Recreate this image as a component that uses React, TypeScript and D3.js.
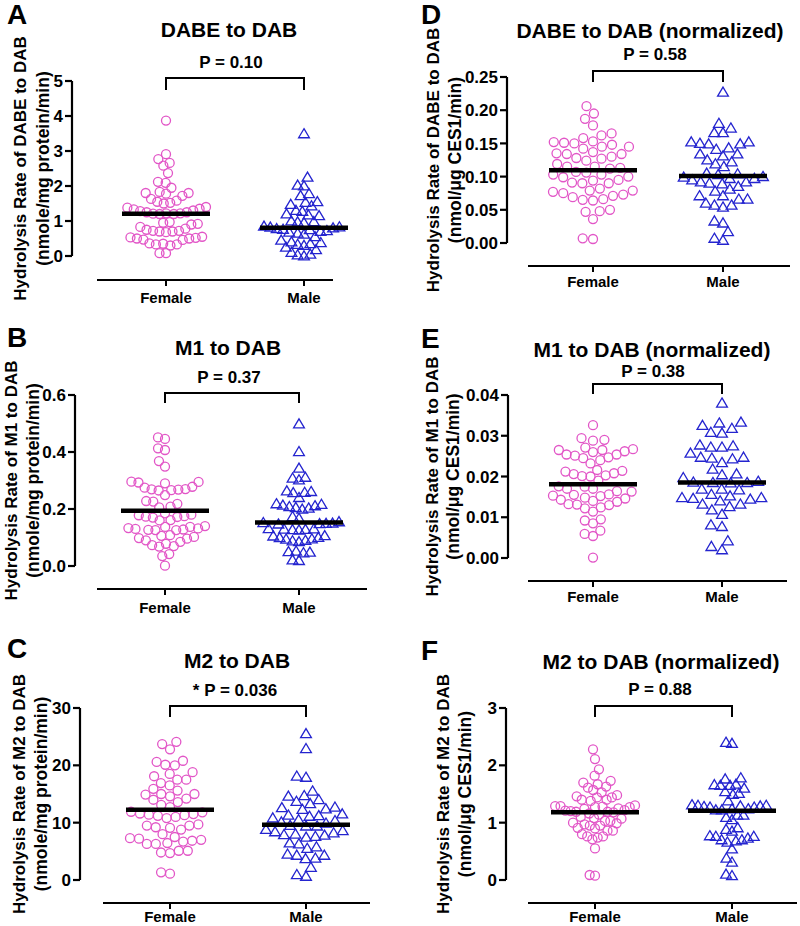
import React from "react";
import * as d3 from "d3";

const FONT = "'Liberation Sans', Arial, Helvetica, sans-serif";
const PINK = "#e256c7";
const BLUE = "#2424cf";

const CATEGORIES = ["Female", "Male"];

// ---- Data ----
const A_FEMALE = [3.87, 2.91, 2.77, 2.66, 2.58, 2.37, 2.12, 2.09, 1.95, 1.83, 1.8, 1.8, 1.78, 1.72, 1.63, 1.58, 1.55, 1.52, 1.5, 1.4, 1.38, 1.35, 1.33, 1.3, 1.28, 1.25, 1.22, 1.21, 1.2, 1.2, 1.22, 1.25, 0.97, 0.95, 0.92, 0.9, 0.83, 0.78, 0.75, 0.72, 0.72, 0.7, 0.7, 0.68, 0.55, 0.53, 0.52, 0.5, 0.5, 0.47, 0.46, 0.36, 0.35, 0.33, 0.33, 0.3, 0.08, 0.08];
const A_MALE = [3.49, 2.25, 2.02, 2.0, 1.78, 1.72, 1.55, 1.53, 1.47, 1.43, 1.3, 1.27, 1.2, 1.17, 1.15, 1.0, 0.98, 0.97, 0.95, 0.85, 0.83, 0.82, 0.8, 0.78, 0.76, 0.75, 0.72, 0.7, 0.68, 0.65, 0.62, 0.55, 0.45, 0.4, 0.38, 0.35, 0.33, 0.3, 0.25, 0.18, 0.1, 0.05, 0.0, 0.03];
const B_FEMALE = [0.451, 0.446, 0.413, 0.407, 0.368, 0.349, 0.296, 0.295, 0.293, 0.29, 0.278, 0.275, 0.27, 0.269, 0.268, 0.266, 0.265, 0.249, 0.226, 0.228, 0.218, 0.208, 0.206, 0.185, 0.18, 0.178, 0.175, 0.173, 0.172, 0.17, 0.161, 0.16, 0.14, 0.137, 0.133, 0.13, 0.127, 0.126, 0.126, 0.128, 0.132, 0.137, 0.106, 0.102, 0.096, 0.085, 0.073, 0.068, 0.07, 0.078, 0.09, 0.098, 0.108, 0.042, 0.035, 0.001];
const B_MALE = [0.498, 0.401, 0.343, 0.311, 0.308, 0.302, 0.263, 0.261, 0.257, 0.258, 0.24, 0.218, 0.213, 0.208, 0.203, 0.199, 0.205, 0.211, 0.216, 0.173, 0.167, 0.155, 0.15, 0.148, 0.147, 0.149, 0.152, 0.129, 0.128, 0.13, 0.127, 0.126, 0.131, 0.105, 0.1, 0.095, 0.09, 0.085, 0.088, 0.094, 0.099, 0.106, 0.05, 0.046, 0.048, 0.052, 0.019, 0.021];
const C_FEMALE = [24.1, 23.7, 22.8, 20.8, 20.6, 20.1, 20.0, 18.8, 18.5, 18.1, 17.5, 17.5, 16.9, 16.5, 15.9, 15.6, 15.0, 15.0, 14.9, 14.6, 14.2, 14.0, 13.6, 13.1, 12.7, 11.9, 11.8, 11.5, 11.4, 11.3, 11.2, 11.0, 10.8, 11.6, 9.7, 9.5, 9.5, 9.2, 9.1, 8.8, 8.0, 7.5, 7.3, 7.2, 7.0, 6.85, 6.7, 6.45, 6.3, 6.3, 5.1, 5.1, 4.8, 4.7, 1.34, 1.1];
const C_MALE = [25.5, 22.9, 18.1, 17.9, 15.5, 14.7, 14.6, 14.0, 13.7, 13.3, 12.7, 12.6, 12.4, 12.3, 11.5, 11.3, 11.2, 11.1, 10.8, 10.5, 10.35, 10.1, 9.9, 9.4, 9.4, 9.5, 8.8, 8.6, 8.4, 8.2, 8.0, 7.9, 7.8, 7.6, 7.45, 6.45, 6.3, 5.76, 5.5, 4.5, 4.3, 4.3, 3.8, 3.7, 2.2, 0.93, 0.64];
const D_FEMALE = [0.206, 0.195, 0.187, 0.177, 0.165, 0.162, 0.158, 0.153, 0.151, 0.15, 0.145, 0.137, 0.134, 0.134, 0.135, 0.142, 0.145, 0.148, 0.152, 0.13, 0.127, 0.119, 0.115, 0.112, 0.113, 0.115, 0.124, 0.128, 0.106, 0.103, 0.1, 0.094, 0.09, 0.09, 0.091, 0.095, 0.099, 0.103, 0.107, 0.082, 0.079, 0.077, 0.071, 0.066, 0.064, 0.065, 0.069, 0.073, 0.075, 0.079, 0.05, 0.047, 0.048, 0.036, 0.006, 0.007];
const D_MALE = [0.227, 0.18, 0.173, 0.166, 0.166, 0.152, 0.15, 0.149, 0.149, 0.152, 0.143, 0.141, 0.134, 0.131, 0.134, 0.122, 0.119, 0.125, 0.115, 0.105, 0.104, 0.1, 0.097, 0.097, 0.099, 0.103, 0.095, 0.092, 0.089, 0.081, 0.078, 0.085, 0.09, 0.092, 0.071, 0.066, 0.057, 0.054, 0.057, 0.06, 0.066, 0.071, 0.033, 0.03, 0.017, 0.004, 0.007];
const E_FEMALE = [0.0326, 0.0294, 0.029, 0.0288, 0.0271, 0.0267, 0.0265, 0.0265, 0.0254, 0.0254, 0.0251, 0.0247, 0.0262, 0.026, 0.0245, 0.024, 0.0232, 0.0216, 0.0214, 0.0206, 0.0203, 0.02, 0.0201, 0.0208, 0.0212, 0.019, 0.0175, 0.017, 0.0163, 0.0164, 0.017, 0.0176, 0.0156, 0.0153, 0.0148, 0.0143, 0.0138, 0.0132, 0.013, 0.0131, 0.014, 0.0146, 0.0152, 0.0155, 0.0124, 0.0114, 0.0122, 0.0092, 0.0095, 0.0085, 0.0059, 0.0054, 0.0067, 0.0001];
const E_MALE = [0.038, 0.0333, 0.0331, 0.0325, 0.0318, 0.0308, 0.0306, 0.0277, 0.0272, 0.0272, 0.0275, 0.0247, 0.0257, 0.0243, 0.0245, 0.0247, 0.0234, 0.0218, 0.0206, 0.0197, 0.0204, 0.0186, 0.0184, 0.0185, 0.0188, 0.0185, 0.0169, 0.0167, 0.0169, 0.0148, 0.0146, 0.014, 0.0156, 0.0152, 0.0132, 0.0144, 0.0148, 0.0132, 0.0118, 0.0126, 0.0107, 0.0081, 0.0077, 0.0042, 0.002, 0.0028];
const F_FEMALE = [2.28, 2.11, 1.93, 1.82, 1.73, 1.7, 1.67, 1.63, 1.61, 1.57, 1.53, 1.48, 1.46, 1.44, 1.44, 1.4, 1.4, 1.38, 1.3, 1.29, 1.28, 1.27, 1.25, 1.22, 1.2, 1.19, 1.19, 1.21, 1.24, 1.27, 1.29, 1.18, 1.16, 1.14, 1.1, 1.07, 1.03, 1.0, 0.97, 0.95, 0.9, 0.86, 0.86, 0.91, 0.95, 0.99, 1.03, 1.08, 0.8, 0.76, 0.76, 0.74, 0.71, 0.55, 0.087, 0.075];
const F_MALE = [2.4, 2.38, 1.78, 1.76, 1.67, 1.66, 1.65, 1.65, 1.6, 1.54, 1.51, 1.49, 1.38, 1.31, 1.3, 1.3, 1.29, 1.29, 1.28, 1.27, 1.27, 1.24, 1.24, 1.22, 1.22, 1.13, 1.13, 1.09, 1.05, 0.91, 0.88, 0.85, 0.77, 0.76, 0.76, 0.73, 0.7, 0.7, 0.68, 0.66, 0.54, 0.38, 0.31, 0.1, 0.075];

// median lines [female, male]
const A_MED = [1.21, 0.81];
const B_MED = [0.194, 0.153];
const C_MED = [12.27, 9.65];
const D_MED = [0.1095, 0.101];
const E_MED = [0.0181, 0.0185];
const F_MED = [1.18, 1.21];

const A_TICKS = [0, 1, 2, 3, 4, 5];
const B_TICKS = [0, 0.2, 0.4, 0.6];
const C_TICKS = [0, 10, 20, 30];
const D_TICKS = [0, 0.05, 0.1, 0.15, 0.2, 0.25];
const E_TICKS = [0, 0.01, 0.02, 0.03, 0.04];
const F_TICKS = [0, 1, 2, 3];

const TITLES = ["DABE to DAB", "M1 to DAB", "M2 to DAB", "DABE to DAB (normalized)", "M1 to DAB (normalized)", "M2 to DAB (normalized)"];
const PVALUES = ["P = 0.10", "P = 0.37", "* P = 0.036", "P = 0.58", "P = 0.38", "P = 0.88"];
const YLABEL1 = ["Hydrolysis Rate of DABE to DAB", "Hydrolysis Rate of M1 to DAB", "Hydrolysis Rate of M2 to DAB", "Hydrolysis Rate of DABE to DAB", "Hydrolysis Rate of M1 to DAB", "Hydrolysis Rate of M2 to DAB"];
const YLABEL2 = ["(nmole/mg protein/min)", "(nmole/mg protein/min)", "(nmole/mg protein/min)", "(nmol/\u03BCg CES1/min)", "(nmol/\u03BCg CES1/min)", "(nmol/\u03BCg CES1/min)"];

// ---- Layout (pixels) ----
const LAYOUT = [
  { letter: "A", lx: 7, ly: 24, axisX: 72, yTop: 81, yBot: 256, xAxisY: 280, xl: 97, xr: 333, cat: [166, 304], brTop: 78, brBot: 90, tx: 229, ty: 37, px: 231, py: 68, catY: 303, l1: 20, l2: 43 },
  { letter: "B", lx: 7, ly: 347, axisX: 75, yTop: 395, yBot: 566, xAxisY: 589, xl: 97, xr: 367, cat: [165, 299], brTop: 393, brBot: 403, tx: 228, ty: 355, px: 229, py: 383, catY: 613, l1: 11, l2: 33 },
  { letter: "C", lx: 7, ly: 658, axisX: 80, yTop: 708, yBot: 880, xAxisY: 903, xl: 103, xr: 370, cat: [170, 306], brTop: 706, brBot: 717, tx: 237, ty: 668, px: 235, py: 696, catY: 922, l1: 19, l2: 41 },
  { letter: "D", lx: 421, ly: 24, axisX: 507, yTop: 77, yBot: 243, xAxisY: 266, xl: 528, xr: 790, cat: [593, 723], brTop: 71, brBot: 82, tx: 650, ty: 38, px: 655, py: 60, catY: 287, l1: 433, l2: 455 },
  { letter: "E", lx: 421, ly: 348, axisX: 508, yTop: 395, yBot: 558, xAxisY: 581, xl: 528, xr: 787, cat: [593, 722], brTop: 384, brBot: 394, tx: 652, ty: 357, px: 653, py: 377, catY: 602, l1: 432, l2: 453 },
  { letter: "F", lx: 421, ly: 660, axisX: 506, yTop: 708, yBot: 880, xAxisY: 903, xl: 528, xr: 797, cat: [595, 732], brTop: 706, brBot: 717, tx: 661, ty: 669, px: 660, py: 695, catY: 922, l1: 443, l2: 465 },
];

const PANELS = [
  { female: A_FEMALE, male: A_MALE, med: A_MED, ticks: A_TICKS, fmt: d3.format("d") },
  { female: B_FEMALE, male: B_MALE, med: B_MED, ticks: B_TICKS, fmt: d3.format(".1f") },
  { female: C_FEMALE, male: C_MALE, med: C_MED, ticks: C_TICKS, fmt: d3.format("d") },
  { female: D_FEMALE, male: D_MALE, med: D_MED, ticks: D_TICKS, fmt: d3.format(".2f") },
  { female: E_FEMALE, male: E_MALE, med: E_MED, ticks: E_TICKS, fmt: d3.format(".2f") },
  { female: F_FEMALE, male: F_MALE, med: F_MED, ticks: F_TICKS, fmt: d3.format("d") },
];

type Pt = { v: number; y: number; x: number };

// Beeswarm with an elliptical exclusion zone, then fitted to the column width
function swarm(values: number[], y: (v: number) => number, Dx: number, Dy: number, half: number): Pt[] {
  const pts: Pt[] = values.map((v) => ({ v, y: y(v), x: 0 })).sort((a, b) => b.y - a.y);
  const placed: Pt[] = [];
  for (const p of pts) {
    const iv: [number, number][] = [];
    for (const q of placed) {
      const dy = Math.abs(q.y - p.y);
      if (dy < Dy) {
        const w = Dx * Math.sqrt(1 - (dy / Dy) * (dy / Dy));
        iv.push([q.x - w, q.x + w]);
      }
    }
    const cands = [0];
    iv.forEach(([a, b]) => cands.push(a, b));
    cands.sort((a, b) => Math.abs(a) - Math.abs(b) || a - b);
    let chosen = 0;
    for (const c of cands) {
      if (!iv.some(([a, b]) => c > a + 1e-6 && c < b - 1e-6)) {
        chosen = c;
        break;
      }
    }
    p.x = chosen;
    placed.push(p);
  }
  const ext = d3.max(placed, (p) => Math.abs(p.x)) || 1;
  const k = half / ext;
  placed.forEach((p) => (p.x *= k));
  return placed;
}

function Panel({ i }: { i: number }) {
  const L = LAYOUT[i];
  const P = PANELS[i];
  const dom = [P.ticks[0], P.ticks[P.ticks.length - 1]];
  const y = d3.scaleLinear().domain(dom).range([L.yBot, L.yTop]);
  const fem = swarm(P.female, y, 7.8, 10.5, 40);
  const mal = swarm(P.male, y, 9.0, 10.5, 40);
  const midY = (L.yTop + L.yBot) / 2;
  const tri = (cx: number, cy: number) =>
    `M${cx},${cy - 5.2}L${cx + 5.4},${cy + 3.9}L${cx - 5.4},${cy + 3.9}Z`;
  return (
    <g fontFamily={FONT} fontWeight="bold" fill="#000">
      <text x={L.lx} y={L.ly} fontSize={28}>{L.letter}</text>
      <text x={L.tx} y={L.ty} fontSize={21} textAnchor="middle">{TITLES[i]}</text>
      <text x={L.px} y={L.py} fontSize={17} textAnchor="middle">{PVALUES[i]}</text>
      <path d={`M${L.cat[0]},${L.brBot}V${L.brTop}H${L.cat[1]}V${L.brBot}`} stroke="#000" strokeWidth={2} fill="none" />
      {/* y axis */}
      <line x1={L.axisX} x2={L.axisX} y1={L.yTop} y2={L.yBot} stroke="#000" strokeWidth={2.2} />
      {P.ticks.map((t) => (
        <g key={t}>
          <line x1={L.axisX - 7} x2={L.axisX} y1={y(t)} y2={y(t)} stroke="#000" strokeWidth={2.2} />
          <text x={L.axisX - 9} y={y(t)} dy="0.36em" fontSize={17} textAnchor="end">{P.fmt(t)}</text>
        </g>
      ))}
      {/* x axis */}
      <line x1={L.xl} x2={L.xr} y1={L.xAxisY} y2={L.xAxisY} stroke="#000" strokeWidth={2.2} />
      {CATEGORIES.map((c, k) => (
        <g key={c}>
          <line x1={L.cat[k]} x2={L.cat[k]} y1={L.xAxisY} y2={L.xAxisY + 6} stroke="#000" strokeWidth={2} />
          <text x={L.cat[k]} y={L.catY} fontSize={15} textAnchor="middle">{c}</text>
        </g>
      ))}
      {/* y label */}
      <text transform={`translate(${L.l1},${midY}) rotate(-90)`} dy="0.36em" fontSize={17} textAnchor="middle">{YLABEL1[i]}</text>
      <text transform={`translate(${L.l2},${midY}) rotate(-90)`} dy="0.36em" fontSize={17.5} textAnchor="middle">{YLABEL2[i]}</text>
      {/* points */}
      {fem.map((p, k) => (
        <circle key={"f" + k} cx={L.cat[0] + p.x} cy={p.y} r={4.5} fill="none" stroke={PINK} strokeWidth={1.3} />
      ))}
      {mal.map((p, k) => (
        <path key={"m" + k} d={tri(L.cat[1] + p.x, p.y)} fill="none" stroke={BLUE} strokeWidth={1.3} strokeLinejoin="miter" />
      ))}
      {P.med.map((m, k) => (
        <line key={"md" + k} x1={L.cat[k] - 44} x2={L.cat[k] + 44} y1={y(m)} y2={y(m)} stroke="#000" strokeWidth={4.5} />
      ))}
    </g>
  );
}

export default function App() {
  return (
    <svg width={800} height={926} style={{ position: "absolute", left: 0, top: 0, background: "#fff" }}>
      <rect width={800} height={926} fill="#fff" />
      {PANELS.map((_, i) => (
        <Panel key={i} i={i} />
      ))}
    </svg>
  );
}
